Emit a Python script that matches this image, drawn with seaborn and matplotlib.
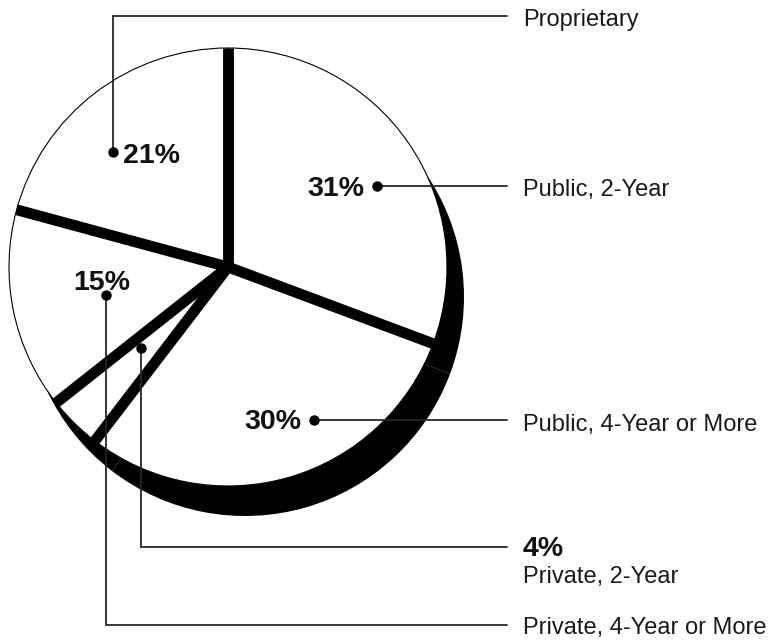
import numpy as np
import matplotlib
matplotlib.use("Agg")
import matplotlib.pyplot as plt
from matplotlib.patches import Circle
import seaborn as sns

# Enrollment share by institution type
categories = ["Proprietary", "Private, 4-Year or More", "Private, 2-Year",
              "Public, 4-Year or More", "Public, 2-Year"]
shares = [21, 15, 4, 30, 31]
pct_labels = [f"{v}%" for v in shares]

sns.set_theme(style="white")
plt.rcParams["font.family"] = ["Liberation Sans", "DejaVu Sans"]

W, H = 775, 640
fig = plt.figure(figsize=(W / 100, H / 100), dpi=100)
ax = fig.add_axes([0, 0, 1, 1])

# pie geometry (pixel-like units, y up)
cx, cy, R = 228, H - 267, 219
shadow_dx, shadow_dy = 17, -30

# solid drop shadow behind the pie
ax.pie(shares, startangle=90, counterclock=True, radius=R,
       center=(cx + shadow_dx, cy + shadow_dy),
       colors=["black"] * len(shares),
       wedgeprops=dict(linewidth=0), frame=True)

# white slices with a thin outline
wedges, _ = ax.pie(shares, startangle=90, counterclock=True, radius=R,
                   center=(cx, cy), colors=sns.color_palette(["white"] * len(shares)),
                   wedgeprops=dict(edgecolor="black", linewidth=0.8), frame=True)

# heavy separators along each slice boundary
clip = Circle((cx, cy), R, transform=ax.transData)
for w in wedges:
    th = np.deg2rad(w.theta1)
    ln, = ax.plot([w.center[0], w.center[0] + w.r * np.cos(th)],
                  [w.center[1], w.center[1] + w.r * np.sin(th)],
                  color="black", lw=7.8, solid_capstyle="butt", zorder=3)
    ln.set_clip_path(clip)

# callouts: dot anchor, leader path, percent text position
line_color = "#262626"
name_x = 523
callouts = {
    "Proprietary": dict(path=[(113, 152), (113, 16), (507, 16)],
                        pct=(123, 163, "left"), name_y=26),
    "Public, 2-Year": dict(path=[(377, 186), (507, 186)],
                           pct=(364, 196, "right"), name_y=196),
    "Public, 4-Year or More": dict(path=[(314, 420), (507, 420)],
                                   pct=(301, 429, "right"), name_y=431),
    "Private, 2-Year": dict(path=[(141, 348), (141, 547), (507, 547)],
                            pct=(name_x, 556, "left"), name_y=583),
    "Private, 4-Year or More": dict(path=[(106, 295), (106, 625), (507, 625)],
                                    pct=(102, 290, "center"), name_y=634),
}

for cat, pct in zip(categories, pct_labels):
    c = callouts[cat]
    xs = [p[0] for p in c["path"]]
    ys = [H - p[1] for p in c["path"]]
    ax.plot(xs, ys, color=line_color, lw=1.3, zorder=4, solid_joinstyle="miter")
    ax.plot(xs[0], ys[0], "o", color="black", ms=6.5, zorder=5)
    px, py, ha = c["pct"]
    ax.text(px, H - py, pct, ha=ha, va="baseline", fontsize=20.5,
            fontweight="bold", color="#111111", zorder=6)
    ax.text(name_x, H - c["name_y"], cat, ha="left", va="baseline",
            fontsize=17, color="#1a1a1a", zorder=6)

ax.set_xlim(0, W)
ax.set_ylim(0, H)
ax.set_aspect("equal")
ax.axis("off")

fig.savefig("out.png", dpi=100, facecolor="white")
